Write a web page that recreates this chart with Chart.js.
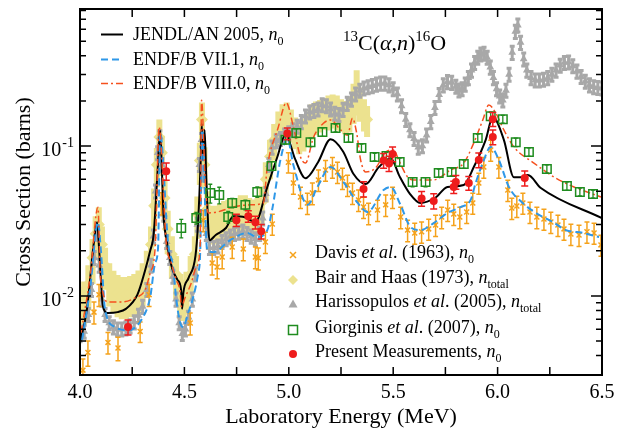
<!DOCTYPE html>
<html>
<head>
<meta charset="utf-8">
<script src="https://cdn.jsdelivr.net/npm/chart.js@4.4.0/dist/chart.umd.min.js"></script>
<style>
  html, body { margin: 0; padding: 0; background: #fff; }
  canvas { display: block; }
</style>
</head>
<body>
<canvas id="chart" width="629" height="430"></canvas>
<script>
// --- axis ticks ---
const xTickValues = [4.0, 4.25, 4.5, 4.75, 5.0, 5.25, 5.5, 5.75, 6.0, 6.25, 6.5];
const xTickLabels = ['4.0', '', '4.5', '', '5.0', '', '5.5', '', '6.0', '', '6.5'];
const yMajorTicks = [0.01, 0.1];
const yMajorExp = ['-2', '-1'];
const yMinorTicks = [0.004, 0.005, 0.006, 0.007, 0.008, 0.009, 0.02, 0.03, 0.04, 0.05, 0.06, 0.07, 0.08, 0.09, 0.2, 0.3, 0.4, 0.5, 0.6, 0.7, 0.8];

// --- evaluated curves ---
const jendlE = [4.000, 4.033, 4.062, 4.082, 4.092, 4.110, 4.134, 4.180, 4.220, 4.275, 4.310, 4.336, 4.353, 4.372, 4.384, 4.392, 4.400, 4.415, 4.440, 4.467, 4.484, 4.489, 4.495, 4.520, 4.553, 4.565, 4.578, 4.583, 4.589, 4.597, 4.605, 4.620, 4.650, 4.700, 4.734, 4.790, 4.840, 4.897, 4.945, 4.985, 5.030, 5.080, 5.140, 5.200, 5.260, 5.310, 5.368, 5.430, 5.488, 5.530, 5.580, 5.630, 5.700, 5.760, 5.838, 5.886, 5.943, 5.977, 6.030, 6.078, 6.110, 6.145, 6.207, 6.500];
const jendlS = [0.0049, 0.0081, 0.020, 0.031, 0.020, 0.0085, 0.0077, 0.0078, 0.0082, 0.0102, 0.0145, 0.020, 0.026, 0.070, 0.127, 0.070, 0.035, 0.0235, 0.0155, 0.0128, 0.0110, 0.0082, 0.0105, 0.0132, 0.0185, 0.030, 0.080, 0.141, 0.080, 0.128, 0.060, 0.0235, 0.0255, 0.0285, 0.034, 0.0335, 0.0311, 0.0533, 0.0845, 0.120, 0.082, 0.061, 0.078, 0.111, 0.092, 0.065, 0.0558, 0.072, 0.083, 0.063, 0.048, 0.0417, 0.045, 0.0533, 0.055, 0.0724, 0.110, 0.156, 0.110, 0.062, 0.062, 0.064, 0.0525, 0.033];

const endf7E = [4.010, 4.048, 4.086, 4.100, 4.120, 4.168, 4.230, 4.293, 4.336, 4.360, 4.374, 4.384, 4.422, 4.446, 4.460, 4.480, 4.494, 4.518, 4.542, 4.566, 4.576, 4.585, 4.609, 4.638, 4.720, 4.800, 4.850, 4.897, 4.920, 4.960, 4.993, 5.022, 5.090, 5.137, 5.200, 5.262, 5.330, 5.377, 5.454, 5.488, 5.535, 5.583, 5.630, 5.694, 5.760, 5.823, 5.871, 5.895, 5.929, 5.967, 6.006, 6.054, 6.120, 6.183, 6.265, 6.327, 6.409, 6.486];
const endf7S = [0.0051, 0.011, 0.031, 0.0202, 0.0081, 0.0062, 0.0059, 0.0069, 0.0098, 0.0166, 0.0212, 0.122, 0.0225, 0.0156, 0.0098, 0.0066, 0.0062, 0.0077, 0.0098, 0.0142, 0.0202, 0.128, 0.0202, 0.0196, 0.0236, 0.0263, 0.0247, 0.0275, 0.0374, 0.081, 0.112, 0.0747, 0.0405, 0.0533, 0.0724, 0.0575, 0.0417, 0.0363, 0.0509, 0.0533, 0.0405, 0.0288, 0.0275, 0.0306, 0.0358, 0.0392, 0.0437, 0.0567, 0.077, 0.0985, 0.0807, 0.0533, 0.0417, 0.0358, 0.0311, 0.0275, 0.0263, 0.0247];

const endf8E = [4.005, 4.048, 4.086, 4.096, 4.110, 4.134, 4.197, 4.264, 4.312, 4.336, 4.360, 4.379, 4.413, 4.437, 4.461, 4.480, 4.485, 4.504, 4.533, 4.557, 4.576, 4.582, 4.600, 4.614, 4.657, 4.734, 4.816, 4.878, 4.897, 4.950, 4.988, 5.022, 5.056, 5.080, 5.118, 5.166, 5.200, 5.248, 5.281, 5.305, 5.325, 5.344, 5.368, 5.416, 5.464, 5.502, 5.526, 5.569, 5.598, 5.694, 5.775, 5.838, 5.886, 5.929, 5.958, 5.991, 6.030, 6.078, 6.174, 6.270, 6.366, 6.495];
const endf8S = [0.0057, 0.0134, 0.039, 0.0149, 0.0105, 0.0091, 0.0091, 0.0097, 0.011, 0.0142, 0.0212, 0.134, 0.0225, 0.0166, 0.0128, 0.0105, 0.0085, 0.0098, 0.0122, 0.0156, 0.0225, 0.202, 0.0567, 0.0358, 0.0363, 0.0392, 0.0405, 0.0417, 0.0724, 0.134, 0.194, 0.134, 0.0845, 0.077, 0.114, 0.142, 0.149, 0.128, 0.118, 0.153, 0.122, 0.0807, 0.0671, 0.0714, 0.0912, 0.0941, 0.0807, 0.0621, 0.0594, 0.0594, 0.0692, 0.077, 0.105, 0.149, 0.188, 0.166, 0.128, 0.0985, 0.077, 0.0621, 0.0533, 0.0457];

// --- measurements ---
const davisE = [4.014, 4.038, 4.067, 4.091, 4.134, 4.182, 4.288, 4.331, 4.389, 4.528, 4.590, 4.633, 4.657, 4.681, 4.729, 4.782, 4.840, 4.854, 4.888, 4.921, 4.998, 5.022, 5.056, 5.089, 5.113, 5.142, 5.176, 5.209, 5.233, 5.257, 5.281, 5.305, 5.334, 5.358, 5.382, 5.425, 5.464, 5.497, 5.536, 5.569, 5.603, 5.636, 5.670, 5.703, 5.732, 5.761, 5.790, 5.819, 5.852, 5.881, 5.910, 5.934, 5.967, 6.006, 6.049, 6.068, 6.092, 6.121, 6.155, 6.188, 6.222, 6.255, 6.289, 6.318, 6.351, 6.390, 6.428, 6.462, 6.495];
const davisS = [0.0032, 0.0042, 0.0078, 0.0102, 0.0049, 0.0045, 0.0058, 0.0102, 0.0417, 0.0066, 0.032, 0.0166, 0.0156, 0.0182, 0.0212, 0.0206, 0.0182, 0.0179, 0.0229, 0.0302, 0.078, 0.0567, 0.0457, 0.0417, 0.0486, 0.0594, 0.0692, 0.0724, 0.0671, 0.0612, 0.055, 0.0486, 0.0437, 0.0392, 0.0357, 0.0374, 0.0405, 0.0457, 0.0336, 0.0275, 0.0263, 0.0268, 0.028, 0.0297, 0.0336, 0.0374, 0.0352, 0.0336, 0.0363, 0.0417, 0.0567, 0.0724, 0.0941, 0.0724, 0.0509, 0.0386, 0.0398, 0.0417, 0.0363, 0.0336, 0.0326, 0.0311, 0.0297, 0.028, 0.0259, 0.0255, 0.0268, 0.0263, 0.0219];
const davisErr = [0.0006, 0.0008, 0.0013, 0.0017, 0.0008, 0.0008, 0.0009, 0.0017, 0.007, 0.0011, 0.0052, 0.0028, 0.0026, 0.003, 0.0034, 0.0034, 0.003, 0.003, 0.0037, 0.0048, 0.012, 0.009, 0.0074, 0.0068, 0.008, 0.0097, 0.011, 0.0115, 0.0108, 0.0099, 0.0089, 0.0079, 0.0071, 0.0064, 0.0058, 0.006, 0.0066, 0.0074, 0.0055, 0.0045, 0.0042, 0.0043, 0.0045, 0.0048, 0.0055, 0.006, 0.0057, 0.0055, 0.0059, 0.0067, 0.009, 0.0115, 0.015, 0.0115, 0.0082, 0.0063, 0.0065, 0.0067, 0.0059, 0.0055, 0.0052, 0.005, 0.0048, 0.0045, 0.0042, 0.0041, 0.0043, 0.0042, 0.0035];

const bairE = [4.000, 4.020, 4.040, 4.060, 4.075, 4.090, 4.105, 4.120, 4.140, 4.160, 4.180, 4.200, 4.220, 4.240, 4.260, 4.280, 4.300, 4.320, 4.340, 4.355, 4.368, 4.380, 4.392, 4.405, 4.420, 4.440, 4.460, 4.480, 4.495, 4.510, 4.530, 4.550, 4.562, 4.574, 4.584, 4.596, 4.610, 4.630, 4.650, 4.670, 4.690, 4.710, 4.730, 4.750, 4.770, 4.790, 4.810, 4.830, 4.850, 4.870, 4.890, 4.910, 4.930, 4.950, 4.970, 4.990, 5.010, 5.030, 5.050, 5.070, 5.090, 5.110, 5.130, 5.150, 5.170, 5.190, 5.210, 5.230, 5.250, 5.270, 5.290, 5.310, 5.325, 5.340, 5.360, 5.375];
const bairS = [0.0085, 0.0095, 0.012, 0.018, 0.026, 0.030, 0.022, 0.016, 0.0125, 0.0112, 0.0105, 0.0102, 0.0102, 0.0104, 0.0107, 0.0113, 0.0125, 0.015, 0.022, 0.040, 0.075, 0.115, 0.090, 0.045, 0.028, 0.019, 0.014, 0.0105, 0.0098, 0.011, 0.014, 0.019, 0.035, 0.080, 0.150, 0.075, 0.038, 0.031, 0.031, 0.032, 0.033, 0.034, 0.034, 0.035, 0.036, 0.036, 0.035, 0.034, 0.035, 0.042, 0.060, 0.085, 0.110, 0.135, 0.150, 0.155, 0.140, 0.125, 0.118, 0.122, 0.135, 0.150, 0.158, 0.163, 0.168, 0.172, 0.176, 0.172, 0.165, 0.160, 0.168, 0.200, 0.240, 0.195, 0.165, 0.150];
const bairErr = [0.003, 0.003, 0.004, 0.006, 0.008, 0.009, 0.007, 0.005, 0.004, 0.0035, 0.0033, 0.0032, 0.0032, 0.0032, 0.0033, 0.0035, 0.004, 0.005, 0.007, 0.012, 0.022, 0.035, 0.027, 0.014, 0.009, 0.006, 0.0045, 0.0035, 0.003, 0.0035, 0.0045, 0.006, 0.011, 0.025, 0.045, 0.023, 0.012, 0.009, 0.009, 0.009, 0.01, 0.01, 0.01, 0.01, 0.011, 0.011, 0.01, 0.01, 0.01, 0.012, 0.018, 0.025, 0.03, 0.035, 0.04, 0.04, 0.035, 0.03, 0.03, 0.03, 0.035, 0.04, 0.04, 0.04, 0.04, 0.045, 0.045, 0.045, 0.04, 0.04, 0.045, 0.06, 0.08, 0.05, 0.04, 0.035];

const harisE = [4.000, 4.020, 4.040, 4.055, 4.068, 4.080, 4.092, 4.105, 4.120, 4.140, 4.160, 4.180, 4.200, 4.220, 4.240, 4.260, 4.280, 4.300, 4.320, 4.340, 4.352, 4.362, 4.372, 4.382, 4.392, 4.402, 4.415, 4.430, 4.445, 4.460, 4.475, 4.490, 4.505, 4.520, 4.538, 4.552, 4.562, 4.572, 4.582, 4.592, 4.605, 4.620, 4.640, 4.660, 4.680, 4.700, 4.720, 4.740, 4.760, 4.780, 4.800, 4.820, 4.840, 4.860, 4.875, 4.890, 4.905, 4.920, 4.940, 4.960, 4.980, 5.000, 5.020, 5.040, 5.060, 5.080, 5.100, 5.120, 5.140, 5.160, 5.180, 5.200, 5.220, 5.240, 5.260, 5.280, 5.300, 5.320, 5.340, 5.360, 5.380, 5.400, 5.420, 5.440, 5.460, 5.480, 5.500, 5.520, 5.540, 5.560, 5.580, 5.600, 5.620, 5.640, 5.660, 5.680, 5.700, 5.720, 5.740, 5.760, 5.780, 5.800, 5.815, 5.830, 5.845, 5.860, 5.875, 5.890, 5.905, 5.920, 5.935, 5.950, 5.965, 5.980, 5.995, 6.010, 6.025, 6.040, 6.055, 6.070, 6.085, 6.097, 6.110, 6.125, 6.140, 6.160, 6.180, 6.200, 6.220, 6.240, 6.260, 6.280, 6.300, 6.320, 6.340, 6.360, 6.380, 6.400, 6.420, 6.440, 6.460, 6.480, 6.500];
const harisS = [0.0055, 0.0058, 0.0075, 0.011, 0.018, 0.026, 0.016, 0.0095, 0.0075, 0.0066, 0.0062, 0.0060, 0.0060, 0.0061, 0.0063, 0.0067, 0.0074, 0.0085, 0.0110, 0.0160, 0.025, 0.050, 0.090, 0.115, 0.075, 0.035, 0.023, 0.018, 0.0135, 0.0095, 0.0066, 0.0056, 0.0060, 0.0072, 0.0095, 0.014, 0.030, 0.075, 0.110, 0.065, 0.026, 0.021, 0.021, 0.0215, 0.023, 0.024, 0.025, 0.026, 0.0265, 0.027, 0.026, 0.025, 0.024, 0.026, 0.033, 0.048, 0.075, 0.098, 0.108, 0.112, 0.118, 0.122, 0.128, 0.135, 0.145, 0.158, 0.168, 0.172, 0.176, 0.188, 0.185, 0.176, 0.165, 0.162, 0.175, 0.192, 0.205, 0.222, 0.235, 0.243, 0.248, 0.252, 0.258, 0.262, 0.262, 0.255, 0.240, 0.222, 0.185, 0.150, 0.128, 0.112, 0.098, 0.100, 0.118, 0.145, 0.180, 0.220, 0.255, 0.268, 0.265, 0.250, 0.236, 0.240, 0.258, 0.285, 0.320, 0.360, 0.390, 0.410, 0.415, 0.390, 0.335, 0.285, 0.240, 0.215, 0.202, 0.235, 0.300, 0.420, 0.580, 0.640, 0.490, 0.380, 0.320, 0.285, 0.275, 0.275, 0.278, 0.285, 0.300, 0.320, 0.345, 0.360, 0.362, 0.342, 0.315, 0.290, 0.270, 0.255, 0.248, 0.245, 0.243];
const harisRelErr = 0.1; // quoted uncertainty

const giorgE = [4.485, 4.557, 4.624, 4.667, 4.710, 4.729, 4.792, 4.849, 4.917, 4.984, 5.036, 5.104, 5.161, 5.224, 5.286, 5.348, 5.411, 5.468, 5.531, 5.593, 5.655, 5.718, 5.780, 5.838, 5.905, 5.967, 6.025, 6.087, 6.150, 6.236, 6.332, 6.394, 6.457];
const giorgS = [0.0284, 0.0331, 0.0486, 0.0471, 0.0336, 0.0417, 0.0405, 0.0494, 0.0736, 0.110, 0.122, 0.106, 0.124, 0.132, 0.113, 0.097, 0.0845, 0.0858, 0.0782, 0.0575, 0.0575, 0.0661, 0.0671, 0.0759, 0.113, 0.158, 0.151, 0.106, 0.0912, 0.0703, 0.0541, 0.0494, 0.0479];
const giorgErr = [0.004, 0.003, 0.007, 0.006, 0.003, 0.003, 0.003, 0.004, 0.005, 0.007, 0.008, 0.007, 0.008, 0.008, 0.007, 0.006, 0.005, 0.005, 0.005, 0.004, 0.004, 0.004, 0.004, 0.005, 0.007, 0.01, 0.009, 0.007, 0.006, 0.0045, 0.0035, 0.003, 0.003];

const presentE = [4.230, 4.413, 4.749, 4.806, 4.840, 4.868, 4.993, 5.358, 5.454, 5.480, 5.497, 5.636, 5.694, 5.790, 5.800, 5.862, 5.910, 5.977, 5.977, 6.130];
const presentS = [0.0062, 0.068, 0.032, 0.034, 0.031, 0.027, 0.121, 0.0517, 0.080, 0.0765, 0.0884, 0.0447, 0.0430, 0.0533, 0.0575, 0.0567, 0.0807, 0.151, 0.115, 0.0612];
const presentErr = [0.0007, 0.009, 0.003, 0.003, 0.003, 0.003, 0.011, 0.006, 0.009, 0.009, 0.01, 0.005, 0.005, 0.005, 0.006, 0.006, 0.009, 0.016, 0.013, 0.007];

const SERIF = '"Liberation Serif", "DejaVu Serif", serif';
const pts = (xs, ys) => xs.map((x, i) => ({ x, y: ys[i] }));

// error bars are drawn just before each dataset's own markers
const errorBars = {
    id: 'errorBars',
    beforeDatasetDraw(chart, args) {
        const ds = chart.data.datasets[args.index];
        if (!ds.errors && !ds.relError) return;
        const { ctx, chartArea: a } = chart;
        const xs = chart.scales.x, ys = chart.scales.y;
        ctx.save();
        ctx.beginPath();
        ctx.rect(a.left, a.top, a.right - a.left, a.bottom - a.top);
        ctx.clip();
        ctx.strokeStyle = ds.errorColor;
        ctx.lineWidth = ds.errorWidth;
        ctx.beginPath();
        ds.data.forEach((p, i) => {
            const e = ds.errors ? ds.errors[i] : p.y * ds.relError;
            const px = xs.getPixelForValue(p.x);
            const top = ys.getPixelForValue(p.y + e);
            const bot = ys.getPixelForValue(Math.max(p.y - e, 1e-4));
            ctx.moveTo(px, top); ctx.lineTo(px, bot);
            if (ds.capHalf) {
                ctx.moveTo(px - ds.capHalf, top); ctx.lineTo(px + ds.capHalf, top);
                ctx.moveTo(px - ds.capHalf, bot); ctx.lineTo(px + ds.capHalf, bot);
            }
        });
        ctx.stroke();
        ctx.restore();
    }
};

// rich text: runs of [text, kind] with kind n / i / sub / sup
function drawRich(ctx, x, y, runs, size) {
    runs.forEach(([text, kind]) => {
        let font = `${size}px ${SERIF}`, dy = 0;
        if (kind === 'i') font = `italic ${size}px ${SERIF}`;
        if (kind === 'sub') { font = `${Math.round(size * 0.68)}px ${SERIF}`; dy = size * 0.3; }
        if (kind === 'sup') { font = `${Math.round(size * 0.68)}px ${SERIF}`; dy = -size * 0.42; }
        ctx.font = font;
        ctx.fillText(text, x, y + dy);
        x += ctx.measureText(text).width;
    });
}

function drawMarker(ctx, style, x, y) {
    ctx.save();
    ctx.beginPath();
    if (style === 'cross') {
        ctx.strokeStyle = '#f5a21b'; ctx.lineWidth = 1.5;
        ctx.moveTo(x - 3, y - 3); ctx.lineTo(x + 3, y + 3);
        ctx.moveTo(x + 3, y - 3); ctx.lineTo(x - 3, y + 3);
        ctx.stroke();
    } else if (style === 'diamond') {
        ctx.fillStyle = '#ece28f';
        ctx.moveTo(x, y - 5); ctx.lineTo(x + 5, y); ctx.lineTo(x, y + 5); ctx.lineTo(x - 5, y);
        ctx.fill();
    } else if (style === 'triangle') {
        ctx.fillStyle = '#a8a8a8';
        ctx.moveTo(x, y - 4.5); ctx.lineTo(x + 4.5, y + 3.5); ctx.lineTo(x - 4.5, y + 3.5);
        ctx.fill();
    } else if (style === 'square') {
        ctx.strokeStyle = '#1f8c1f'; ctx.lineWidth = 1.5;
        ctx.strokeRect(x - 4.5, y - 4.5, 9, 9);
    } else {
        ctx.fillStyle = '#ee1c1c';
        ctx.arc(x, y, 4, 0, Math.PI * 2);
        ctx.fill();
    }
    ctx.restore();
}

const frame = {
    id: 'frame',
    afterDraw(chart) {
        const { ctx, chartArea: a } = chart;
        const xs = chart.scales.x, ys = chart.scales.y;
        ctx.save();
        ctx.strokeStyle = '#000';
        ctx.lineWidth = 1.5;
        ctx.beginPath();
        xTickValues.forEach(v => {
            const px = xs.getPixelForValue(v);
            ctx.moveTo(px, a.bottom); ctx.lineTo(px, a.bottom - 8);
            ctx.moveTo(px, a.top); ctx.lineTo(px, a.top + 8);
        });
        yMinorTicks.forEach(v => {
            const py = ys.getPixelForValue(v);
            ctx.moveTo(a.left, py); ctx.lineTo(a.left + 6, py);
            ctx.moveTo(a.right, py); ctx.lineTo(a.right - 6, py);
        });
        yMajorTicks.forEach(v => {
            const py = ys.getPixelForValue(v);
            ctx.moveTo(a.left, py); ctx.lineTo(a.left + 11, py);
            ctx.moveTo(a.right, py); ctx.lineTo(a.right - 11, py);
        });
        ctx.stroke();
        ctx.lineWidth = 2;
        ctx.strokeRect(a.left, a.top, a.right - a.left, a.bottom - a.top);

        ctx.fillStyle = '#000';
        ctx.textBaseline = 'alphabetic';
        ctx.textAlign = 'center';
        ctx.font = `20px ${SERIF}`;
        xTickValues.forEach((v, i) => {
            if (xTickLabels[i]) ctx.fillText(xTickLabels[i], xs.getPixelForValue(v), a.bottom + 23);
        });
        ctx.textAlign = 'right';
        yMajorTicks.forEach((v, i) => {
            const py = ys.getPixelForValue(v);
            ctx.font = `14px ${SERIF}`;
            const w = ctx.measureText(yMajorExp[i]).width;
            ctx.fillText(yMajorExp[i], a.left - 6, py + 1);
            ctx.font = `20px ${SERIF}`;
            ctx.fillText('10', a.left - 7 - w, py + 10);
        });

        ctx.textAlign = 'center';
        ctx.font = `22px ${SERIF}`;
        ctx.fillText('Laboratory Energy (MeV)', (a.left + a.right) / 2, a.bottom + 48);
        ctx.save();
        ctx.translate(24, 192);
        ctx.rotate(-Math.PI / 2);
        ctx.textBaseline = 'middle';
        ctx.fillText('Cross Section (barns)', 0, 0);
        ctx.restore();

        // reaction label
        ctx.textAlign = 'left';
        drawRich(ctx, 343, 50, [['13', 'sup'], ['C(', 'n'], ['\u03b1', 'i'], [',', 'n'], ['n', 'i'], [')', 'n'], ['16', 'sup'], ['O', 'n']], 22);

        // curve legend (top left)
        const curveLegend = [
            { color: '#000', width: 2, dash: [], text: 'JENDL/AN 2005, ', y: 40 },
            { color: '#2f98e8', width: 2, dash: [7, 4], text: 'ENDF/B VII.1, ', y: 65 },
            { color: '#f5501e', width: 1.5, dash: [7, 3, 2, 3], text: 'ENDF/B VIII.0, ', y: 89 }
        ];
        curveLegend.forEach(c => {
            ctx.save();
            ctx.strokeStyle = c.color; ctx.lineWidth = c.width; ctx.setLineDash(c.dash);
            ctx.beginPath(); ctx.moveTo(101, c.y - 5.5); ctx.lineTo(123, c.y - 5.5); ctx.stroke();
            ctx.restore();
            drawRich(ctx, 133, c.y, [[c.text, 'n'], ['n', 'i'], ['0', 'sub']], 18);
        });

        // data legend (bottom right)
        const dataLegend = [
            { m: 'cross', y: 258, runs: [['Davis ', 'n'], ['et al', 'i'], ['. (1963), ', 'n'], ['n', 'i'], ['0', 'sub']] },
            { m: 'diamond', y: 283, runs: [['Bair and Haas (1973), ', 'n'], ['n', 'i'], ['total', 'sub']] },
            { m: 'triangle', y: 307, runs: [['Harissopulos ', 'n'], ['et al', 'i'], ['. (2005), ', 'n'], ['n', 'i'], ['total', 'sub']] },
            { m: 'square', y: 333, runs: [['Giorginis ', 'n'], ['et al', 'i'], ['. (2007), ', 'n'], ['n', 'i'], ['0', 'sub']] },
            { m: 'circle', y: 357, runs: [['Present Measurements, ', 'n'], ['n', 'i'], ['0', 'sub']] }
        ];
        dataLegend.forEach(d => {
            drawMarker(ctx, d.m, 293, d.y - 3);
            drawRich(ctx, 315, d.y, d.runs, 18);
        });
        ctx.restore();
    }
};

const lineDs = (label, xs, ys, color, width, dash, order) => ({
    label, data: pts(xs, ys), showLine: true, pointRadius: 0,
    borderColor: color, borderWidth: width, borderDash: dash,
    cubicInterpolationMode: 'monotone', order
});

new Chart(document.getElementById('chart'), {
    type: 'scatter',
    data: {
        datasets: [
            {
                label: 'Bair and Haas (1973)', data: pts(bairE, bairS), order: 8,
                pointStyle: 'rectRot', pointRadius: 6, backgroundColor: '#ece28f', borderWidth: 0,
                errors: bairErr, errorColor: '#ece28f', errorWidth: 6
            },
            {
                label: 'Harissopulos et al. (2005)', data: pts(harisE, harisS), order: 7,
                pointStyle: 'triangle', pointRadius: 4.5, backgroundColor: '#a8a8a8', borderColor: '#a8a8a8', borderWidth: 0,
                relError: harisRelErr, errorColor: '#a8a8a8', errorWidth: 3, capHalf: 2.5
            },
            {
                label: 'Davis et al. (1963)', data: pts(davisE, davisS), order: 6,
                pointStyle: 'crossRot', pointRadius: 3.5, borderColor: '#f5a21b', borderWidth: 1.5,
                errors: davisErr, errorColor: '#f5a21b', errorWidth: 1.5, capHalf: 2.5
            },
            lineDs('JENDL/AN 2005', jendlE, jendlS, '#000', 2, [], 5),
            lineDs('ENDF/B VII.1', endf7E, endf7S, '#2f98e8', 2, [7, 4], 4),
            lineDs('ENDF/B VIII.0', endf8E, endf8S, '#f5501e', 1.5, [7, 3, 2, 3], 3),
            {
                label: 'Giorginis et al. (2007)', data: pts(giorgE, giorgS), order: 2,
                pointStyle: 'rect', pointRadius: 6, backgroundColor: 'rgba(0,0,0,0)', borderColor: '#1f8c1f', borderWidth: 1.5,
                errors: giorgErr, errorColor: '#1f8c1f', errorWidth: 1.3, capHalf: 2
            },
            {
                label: 'Present Measurements', data: pts(presentE, presentS), order: 1,
                pointStyle: 'circle', pointRadius: 4, backgroundColor: '#ee1c1c', borderColor: '#ee1c1c', borderWidth: 0,
                errors: presentErr, errorColor: '#ee1c1c', errorWidth: 1.5, capHalf: 3.5
            }
        ]
    },
    options: {
        responsive: false,
        animation: false,
        layout: { padding: { left: 80, right: 27, top: 9, bottom: 55 } },
        plugins: { legend: { display: false }, tooltip: { enabled: false } },
        scales: {
            x: { type: 'linear', min: 4.0, max: 6.5, display: false },
            y: { type: 'logarithmic', min: 0.00297, max: 0.82, display: false }
        }
    },
    plugins: [errorBars, frame]
});
</script>
</body>
</html>
